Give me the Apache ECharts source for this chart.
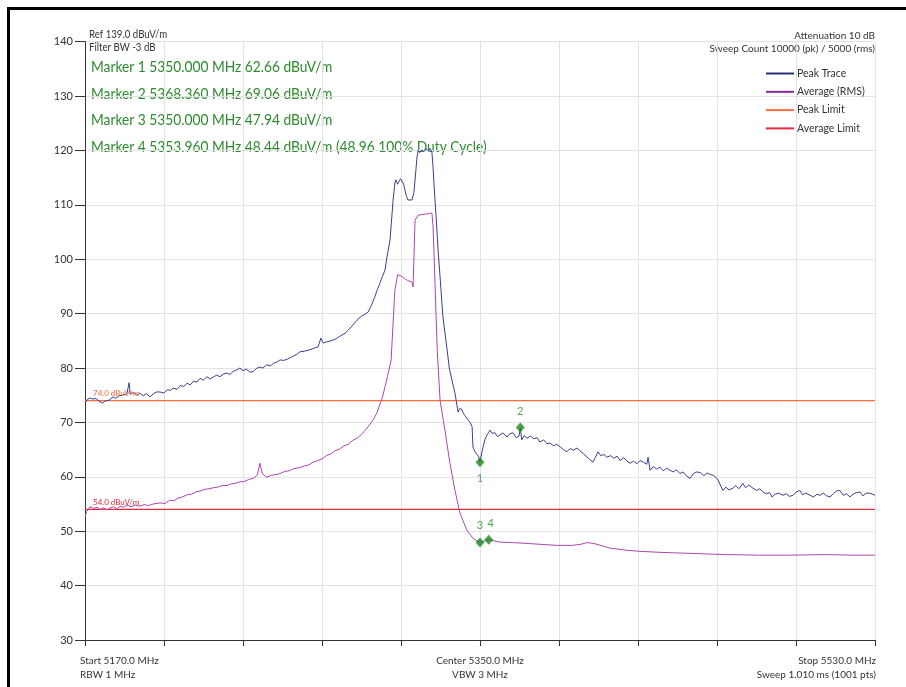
<!DOCTYPE html>
<html><head><meta charset="utf-8">
<script src="https://cdn.jsdelivr.net/npm/echarts@6/dist/echarts.min.js"></script>
<style>html,body{margin:0;padding:0;background:#fff}#c{width:906px;height:687px}</style>
</head><body><div id="c"></div>
<script>
// ---- data (frequency MHz, level dBuV/m) ----
const peakTrace = [
[5170,73.6],[5171,74.2],[5172.3,74.5],[5173.5,74.3],[5175,74.4],[5176.8,73.8],[5178,73.6],[5179.5,74.0],[5181,74.1],[5182.8,74.7],
[5184,74.4],[5185.5,74.9],[5187,75.0],[5189.1,75.3],[5190.1,77.3],[5190.6,75.2],[5192,75.5],[5193.7,75.0],[5195,75.4],[5196.5,74.9],
[5198,75.3],[5199.6,74.7],[5201,75.2],[5202.5,75.6],[5204.2,75.6],[5206,75.4],[5207.5,76.0],[5209,75.9],[5210.1,76.3],[5212,76.1],
[5213.5,76.8],[5215,76.6],[5216.5,77.2],[5218,76.9],[5219.5,77.6],[5221,77.4],[5222.4,78.1],[5224,77.8],[5225.5,78.4],[5227,78.0],
[5228.3,78.3],[5230,78.7],[5231.5,78.4],[5233,78.9],[5234.7,79.1],[5236,78.8],[5237.5,79.4],[5239,79.6],[5240.6,80.0],[5242,79.5],
[5243.5,79.8],[5245,79.3],[5246.6,79.3],[5248,79.9],[5249.7,80.2],[5251,80.0],[5252.9,80.6],[5254.5,80.4],[5256,80.9],[5257.5,81.1],
[5258.9,81.5],[5260.5,81.4],[5262,81.6],[5263.5,81.9],[5265,82.2],[5266.5,82.5],[5268,83.0],[5270,83.1],[5272,83.3],[5274,83.6],
[5276.2,83.9],[5277.5,85.5],[5278.5,84.6],[5280,84.8],[5282,85.0],[5284,85.3],[5286,85.8],[5288.5,86.4],[5290,87.0],[5292,87.9],
[5294,88.8],[5295.5,89.4],[5296.7,89.7],[5298,90.0],[5299,90.3],[5300.5,91.5],[5302,93.0],[5303.1,94.3],[5304.4,95.6],[5305.5,96.8],
[5306.7,98.0],[5307.6,100.4],[5309,103.5],[5310.4,110.9],[5311.2,114.0],[5311.7,114.6],[5312.4,113.8],[5313.1,114.0],[5313.8,114.8],[5314.5,114.7],
[5315.2,113.8],[5315.8,112.7],[5316.5,111.6],[5317.2,110.9],[5318,110.6],[5319,110.9],[5319.9,112.3],[5320.6,115.5],[5321.3,118.8],[5321.8,120.0],
[5322.5,119.6],[5323.5,120.1],[5324.5,119.8],[5325.5,120.3],[5326.5,119.9],[5327.3,120.4],[5328.1,119.6],[5328.6,117.0],[5329,114.0],[5330,107.8],
[5330.9,101.7],[5331.8,96.8],[5333.1,89.4],[5335,83.4],[5336,80.0],[5337.2,77.8],[5338.6,75.4],[5340,71.9],[5340.8,72.6],[5341.8,72.3],
[5342.5,71.6],[5343.2,71.7],[5344.5,70.5],[5345.5,70.0],[5346.4,69.2],[5346.8,65.5],[5347.7,64.6],[5348.6,64.9],[5349.3,63.8],[5350,62.66],
[5350.7,64.2],[5351.4,65.5],[5352.3,66.9],[5353.2,67.7],[5354,68.2],[5354.6,68.6],[5355.5,68.0],[5356.8,68.1],[5358,67.4],[5359.1,67.7],
[5360.5,68.1],[5362.3,67.3],[5363.5,67.9],[5365,68.1],[5366.5,67.2],[5367.8,67.5],[5368.36,69.06],[5369,66.8],[5370.2,67.6],[5371.4,67.1],
[5373,67.5],[5374.5,67.0],[5376,67.2],[5377.3,66.4],[5379,66.8],[5380.5,66.1],[5381.9,66.2],[5383.5,65.7],[5385,66.0],[5386.5,65.5],
[5388,65.0],[5389.6,64.6],[5391,65.2],[5392.5,64.9],[5394.2,65.3],[5395.5,64.8],[5397,64.3],[5398.8,63.6],[5400,63.2],[5401.5,62.7],
[5402.5,63.5],[5403.8,64.6],[5405,63.9],[5406.5,64.1],[5407.9,63.6],[5409.5,63.9],[5411,63.4],[5412.5,63.8],[5413.8,63.0],[5415.5,63.5],
[5417,62.9],[5418.4,62.5],[5420,62.9],[5421.5,62.4],[5422.9,63.0],[5424.5,62.7],[5426,62.3],[5426.6,63.6],[5427.5,61.2],[5429,61.9],
[5430.5,61.4],[5432,61.8],[5433.5,61.1],[5435,61.6],[5436.6,61.2],[5438,60.9],[5439.5,61.3],[5441.1,60.6],[5442.5,60.9],[5444,60.2],
[5445.7,59.7],[5447,60.5],[5448.5,60.9],[5450.3,60.8],[5452,60.2],[5453.5,60.7],[5455,60.4],[5456.2,60.3],[5457.5,59.9],[5458.5,59.4],
[5459.5,58.5],[5460.7,57.5],[5462,58.1],[5463.5,57.6],[5465.3,57.9],[5466.5,58.4],[5468,57.8],[5469.8,58.8],[5471,58.0],[5472.5,58.5],
[5474.4,57.9],[5476,57.5],[5477.5,57.8],[5479,57.2],[5480.5,56.9],[5482,57.1],[5483.1,56.3],[5484.5,56.8],[5486,57.0],[5488.1,56.6],
[5489.5,56.9],[5491,56.4],[5492.6,56.6],[5494,57.2],[5495.8,57.5],[5497,56.7],[5498.5,57.0],[5500.4,56.6],[5502,56.3],[5503.5,56.8],
[5504.9,56.6],[5506.5,57.0],[5508,56.5],[5509.5,56.3],[5511,56.9],[5512.5,57.4],[5514,57.5],[5515.5,56.6],[5517,56.9],[5518.6,56.3],
[5520,56.8],[5521.5,57.1],[5523.2,57.2],[5524.5,56.5],[5526,57.0],[5527.7,57.0],[5529,56.8],[5530,56.6]
];
const rmsTrace = [
[5170,52.6],[5170.7,53.6],[5171.5,54.0],[5172.3,54.5],[5174,54.2],[5175.5,54.4],[5176.8,54.0],[5178.5,54.3],[5180,53.9],[5181.5,54.3],
[5183,54.5],[5184.5,54.1],[5186,54.6],[5187.5,54.4],[5189.1,54.8],[5191,54.5],[5193,54.8],[5195,54.6],[5197,54.9],[5199,54.7],
[5201,55.0],[5204.2,55.2],[5206.5,55.1],[5208.5,55.7],[5210.5,55.6],[5212.5,56.1],[5214.5,56.3],[5216.5,56.7],[5218.5,56.8],[5220.5,57.2],
[5222.5,57.4],[5224.5,57.7],[5226.5,57.8],[5228.5,58.0],[5230.5,58.1],[5232.5,58.4],[5234.7,58.4],[5236.5,58.7],[5238.5,58.8],[5240.5,59.1],
[5242.5,59.1],[5244.5,59.5],[5246.6,59.7],[5248.5,60.3],[5249.7,62.5],[5250.8,60.6],[5252.9,59.9],[5255,60.3],[5257,60.4],[5258.9,60.6],
[5261,61.0],[5263,61.1],[5265,61.5],[5268,61.7],[5270,62.0],[5272,62.2],[5274,62.7],[5276.2,63.0],[5278,63.3],[5280,63.9],
[5282,64.2],[5284,64.8],[5286,65.1],[5288,65.7],[5290,66.0],[5292,66.7],[5294,67.1],[5296.5,68.0],[5299,69.2],[5301,70.3],
[5303,71.7],[5305.6,74.7],[5307.8,78.4],[5309.5,81.5],[5310.4,88.3],[5311.2,94.3],[5312.5,97.2],[5313.5,97.0],[5314.5,96.8],[5315.5,96.5],
[5317,96.1],[5319,95.8],[5319.5,94.9],[5320.4,107.2],[5321.8,108.1],[5325,108.3],[5327,108.4],[5328.1,108.5],[5328.6,106.0],[5329,101.7],
[5330,89.4],[5330.5,83.4],[5331.8,74.1],[5334,68.6],[5336.3,62.5],[5338.6,57.5],[5340.9,53.3],[5344,50.2],[5346.8,48.7],[5350,47.94],
[5353.96,48.44],[5359.1,48.0],[5365,47.9],[5369.6,47.8],[5377.3,47.6],[5385,47.4],[5392,47.4],[5396,47.6],[5398.8,47.9],[5401,47.8],
[5403.3,47.6],[5409.2,46.9],[5417,46.5],[5422.9,46.3],[5433,46.1],[5448,45.9],[5462,45.7],[5477,45.6],[5492,45.6],[5507,45.7],
[5520,45.6],[5530,45.6]
];
const peakLimit = 74.0;
const avgLimit = 54.0;
const markerNames = ['1','2','3','4'];
const markerFreqs = [5350.000, 5368.360, 5350.000, 5353.960];
const markerLevels = [62.66, 69.06, 47.94, 48.44];
const markerLabelPos = ['bottom','top','top','top'];
const markerTexts = [
  'Marker 1 5350.000 MHz 62.66 dBuV/m',
  'Marker 2 5368.360 MHz 69.06 dBuV/m',
  'Marker 3 5350.000 MHz 47.94 dBuV/m',
  'Marker 4 5353.960 MHz 48.44 dBuV/m (48.96 100% Duty Cycle)'
];
const xStart = 5170, xStop = 5530, xDiv = 36;
const yMin = 30, yMax = 140, yStep = 10;

const FONT = 'Lato, "Open Sans", sans-serif';
const chart = echarts.init(document.getElementById('c'), null, {renderer:'canvas'});
const green = '#2e8b2e';
const cPeak = '#3a3f8f', cRms = '#a848ab', cPL = '#ff6a3a', cAL = '#e8283c';

const markerData = markerNames.map((n,i)=>({name:n, value:[markerFreqs[i], markerLevels[i]],
  label:{position:markerLabelPos[i], offset: i===3?[2,0]:[0,0]}}));

const graphics = [
  {type:'rect', shape:{x:7,y:7,width:3,height:680}, style:{fill:'#000'}},
  {type:'rect', shape:{x:7,y:7,width:899,height:3}, style:{fill:'#000'}},
  {type:'text', x:89, y:29, scaleX:0.92, style:{text:'Ref 139.0 dBuV/m', fill:'#333', font:'10.5px '+FONT}},
  {type:'text', x:89, y:42, scaleX:0.92, style:{text:'Filter BW -3 dB', fill:'#333', font:'10.5px '+FONT}},
  {type:'text', right:31, y:31, style:{text:'Attenuation 10 dB', fill:'#333', font:'10px '+FONT, align:'right'}},
  {type:'text', right:31, y:44, style:{text:'Sweep Count 10000 (pk) / 5000 (rms)', fill:'#333', font:'10px '+FONT, align:'right'}},
  {type:'text', x:80, y:654, style:{text:'Start 5170.0 MHz\nRBW 1 MHz', fill:'#333', font:'10px '+FONT, lineHeight:14}},
  {type:'text', x:480, y:654, style:{text:'Center 5350.0 MHz\nVBW 3 MHz', fill:'#333', font:'10px '+FONT, lineHeight:14, align:'center'}},
  {type:'text', x:876, y:654, style:{text:'Stop 5530.0 MHz\nSweep 1.010 ms (1001 pts)', fill:'#333', font:'10px '+FONT, lineHeight:14, align:'right'}}
];
markerTexts.forEach((t,i)=>graphics.push({type:'text', x:91, y:59+i*26.6, scaleX:0.86,
  style:{text:t, fill:green, font:'16px '+FONT}}));

chart.setOption({
  animation:false,
  grid:{left:85, right:31, top:41.7, bottom:47, containLabel:false},
  legend:{
    data:['Peak Trace','Average (RMS)','Peak Limit','Average Limit'],
    orient:'vertical', left:761, top:63, itemWidth:28, itemHeight:2, itemGap:7.3, icon:'rect',
    textStyle:{fontSize:10.5, color:'#333', fontFamily:FONT, padding:[0,0,0,-2]}
  },
  xAxis:[
    {type:'value', min:xStart, max:xStop, show:false},
    {type:'value', min:0, max:xStop-xStart, interval:xDiv, position:'bottom',
     axisLine:{show:true, onZero:false, lineStyle:{color:'#333', width:1}},
     axisTick:{show:true, length:6, inside:false, lineStyle:{color:'#333'}},
     axisLabel:{show:false},
     splitLine:{show:true, lineStyle:{color:'#e3e3e3', width:1}}}
  ],
  yAxis:{type:'value', min:yMin, max:yMax, interval:yStep,
    axisLine:{show:true, lineStyle:{color:'#333', width:1}},
    axisTick:{show:true, length:10, lineStyle:{color:'#333'}},
    axisLabel:{color:'#333', fontSize:11, fontFamily:FONT, margin:12},
    splitLine:{show:true, lineStyle:{color:'#e3e3e3', width:1}}},
  series:[
    {name:'Peak Limit', type:'line', xAxisIndex:0, data:[[xStart,peakLimit],[xStop,peakLimit]], showSymbol:false,
     lineStyle:{color:cPL, width:1.2}, itemStyle:{color:cPL}, silent:true,
     markLine:{symbol:'none', silent:true, lineStyle:{color:'rgba(0,0,0,0)', width:1}, data:[{yAxis:peakLimit}],
       label:{show:true, position:'insideStartTop', formatter:'74.0 dBuV/m', color:cPL, fontSize:8, fontFamily:FONT, distance:[8,3]}}},
    {name:'Average Limit', type:'line', xAxisIndex:0, data:[[xStart,avgLimit],[xStop,avgLimit]], showSymbol:false,
     lineStyle:{color:cAL, width:1.2}, itemStyle:{color:cAL}, silent:true,
     markLine:{symbol:'none', silent:true, lineStyle:{color:'rgba(0,0,0,0)', width:1}, data:[{yAxis:avgLimit}],
       label:{show:true, position:'insideStartTop', formatter:'54.0 dBuV/m', color:cAL, fontSize:8, fontFamily:FONT, distance:[8,3]}}},
    {name:'Average (RMS)', type:'line', xAxisIndex:0, data:rmsTrace, showSymbol:false,
     lineStyle:{color:cRms, width:1}, itemStyle:{color:'#8a2a9a'}},
    {name:'Peak Trace', type:'line', xAxisIndex:0, data:peakTrace, showSymbol:false,
     lineStyle:{color:cPeak, width:1}, itemStyle:{color:'#2a2f7a'}},
    {name:'Markers', type:'scatter', xAxisIndex:0, data:markerData, symbol:'diamond', symbolSize:[9,10],
     itemStyle:{color:'#1d8a1d'}, z:10,
     label:{show:true, formatter:'{b}', color:green, fontSize:11, fontFamily:FONT, distance:6}}
  ],
  graphic:graphics
});
</script></body></html>
